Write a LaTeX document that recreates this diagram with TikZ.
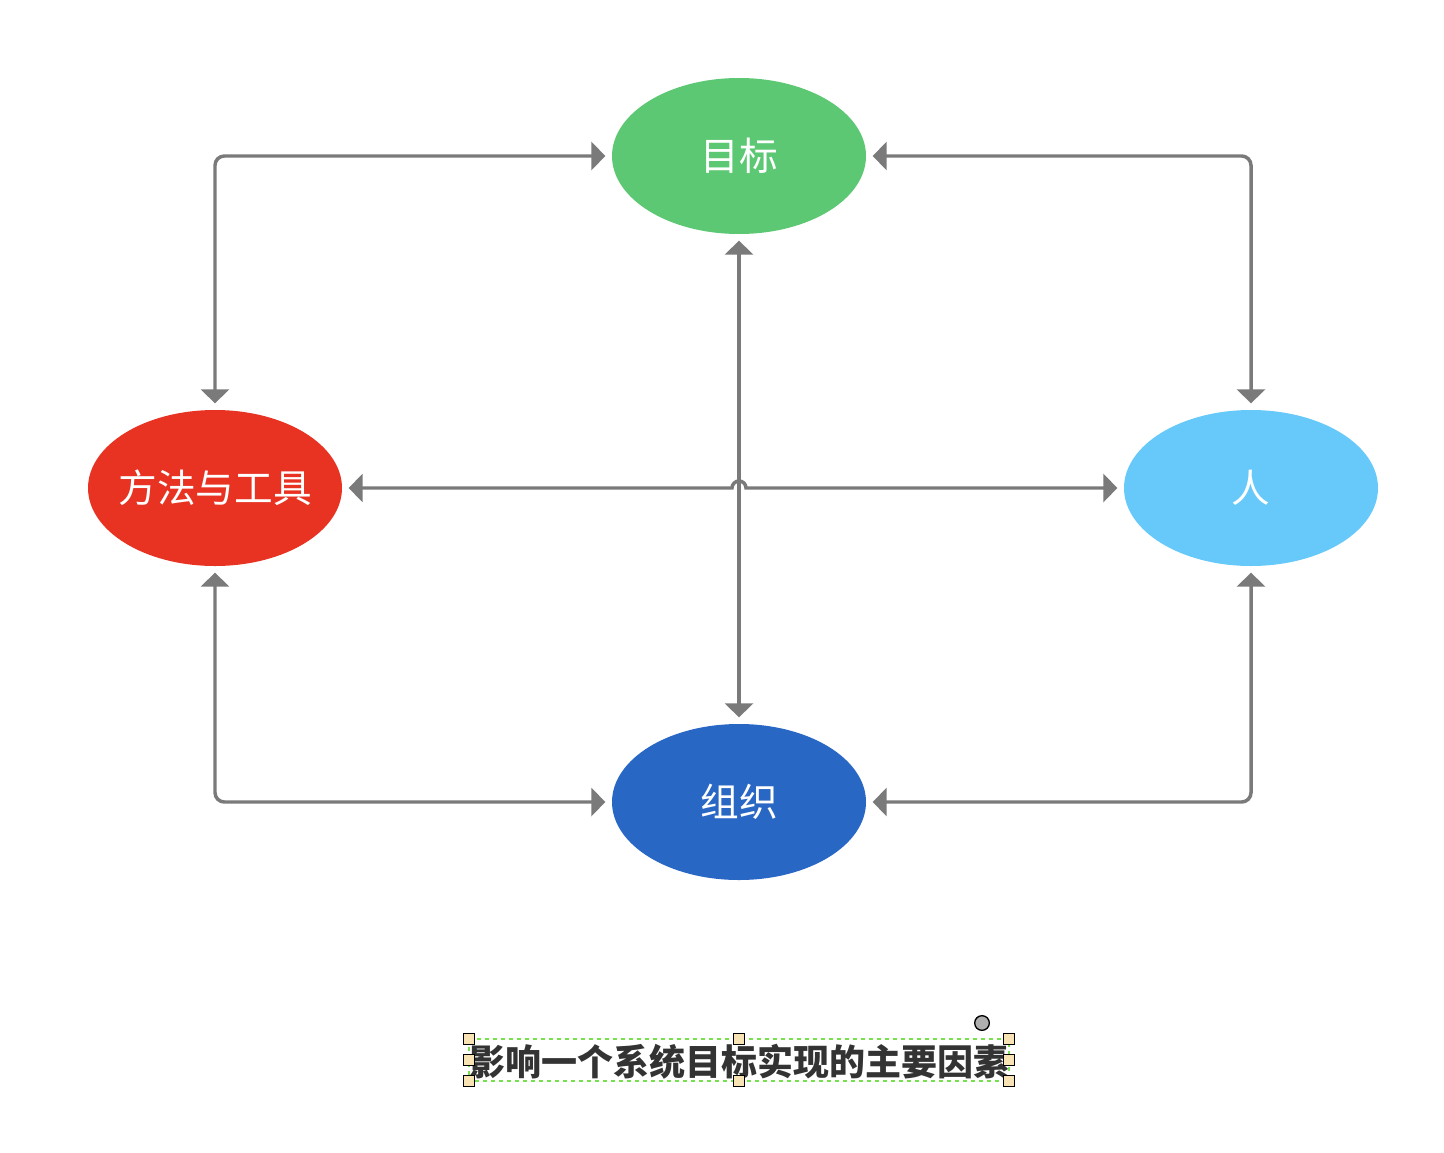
\documentclass[tikz,border=0pt]{standalone}
\usepackage{fontspec}
\usepackage{tikz}
\usetikzlibrary{calc,arrows.meta,shapes.geometric}
\setmainfont{Noto Sans CJK SC}
\definecolor{line}{HTML}{7A7A7A}
\definecolor{goalc}{HTML}{5DC873}
\definecolor{methodc}{HTML}{E83323}
\definecolor{peoplec}{HTML}{66C9F9}
\definecolor{orgc}{HTML}{2967C5}
\definecolor{capt}{HTML}{333333}
\definecolor{selg}{HTML}{77E04A}
\definecolor{handle}{HTML}{F8E3B4}
\tikzset{
  factor/.style={ellipse, minimum width=190.5pt, minimum height=117pt, inner sep=0pt,
    outer sep=5pt, text=white, font=\fontsize{29}{32}\selectfont},
  link/.style={draw=line, line width=2.6pt, rounded corners=7pt,
    {Triangle[length=10.5pt,width=21pt]}-{Triangle[length=10.5pt,width=21pt]}},
  handlebox/.style={draw=black, fill=handle, line width=1pt, minimum size=8.5pt, inner sep=0pt},
}

\begin{document}
\begin{tikzpicture}[x=0.75pt,y=-0.75pt]
  \useasboundingbox (0,0) rectangle (1444,1152);
  % four factors
  \node[factor, fill=goalc]   (goal)   at (739,156) {目标};
  \node[factor, fill=methodc] (method) at (215,488) {\makebox[0pt]{方法与工具}};
  \node[factor, fill=peoplec] (people) at (1251,488) {人};
  \node[factor, fill=orgc]    (org)    at (739,802) {组织};
  \coordinate (hop) at (739,488);
  % outer loop
  \draw[link] (method.north) |- (goal.west);
  \draw[link] (people.north) |- (goal.east);
  \draw[link] (method.south) |- (org.west);
  \draw[link] (people.south) |- (org.east);
  % cross
  \draw[link] (goal.south) -- (org.north);
  \draw[link, rounded corners=0pt] (method.east) -- ($(hop)+(-7,0)$)
    arc[start angle=180, end angle=360, radius=7] -- (people.west);
  % caption
  \node[text=capt, font=\bfseries\fontsize{27}{30}\selectfont] (title) at (739,1062)
    {影响一个系统目标实现的主要因素};
  \draw[selg, dashed, line width=1pt] (469,1039) rectangle (1009,1081);
  \foreach \hx/\hy in {469/1039,739/1039,1009/1039,469/1060,1009/1060,469/1081,739/1081,1009/1081}
    \node[handlebox] at (\hx,\hy) {};
  \draw[black, fill=line!60, line width=1pt] (982,1023) circle (5.5pt);
\end{tikzpicture}
\end{document}
